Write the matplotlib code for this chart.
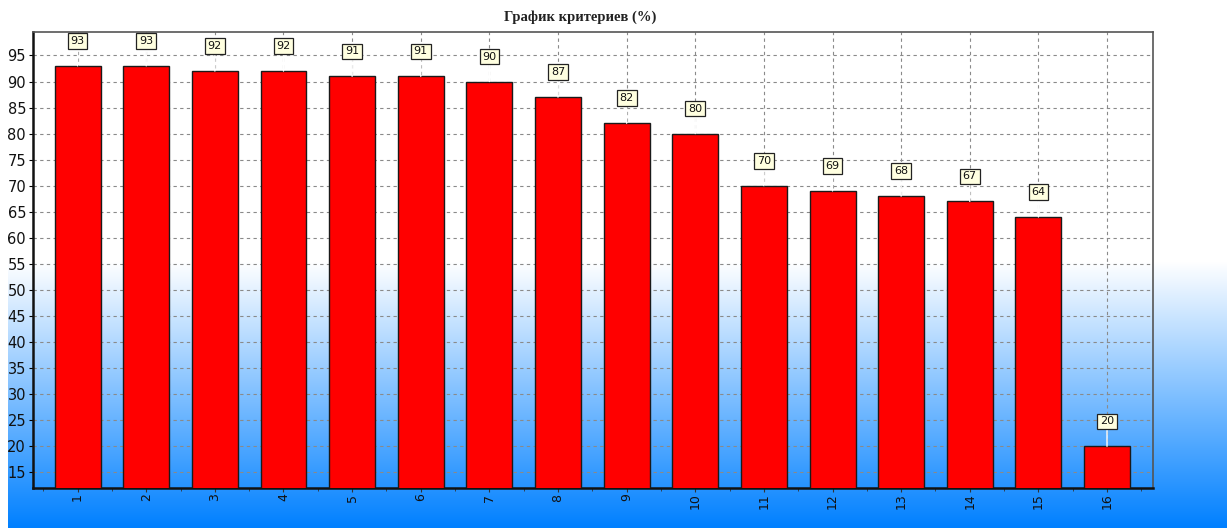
import numpy as np
import matplotlib
matplotlib.use("Agg")
import matplotlib.pyplot as plt

categories = [str(i) for i in range(1, 17)]
values = [93, 93, 92, 92, 91, 91, 90, 87, 82, 80, 70, 69, 68, 67, 64, 20]
yticks = list(range(15, 100, 5))
title = "График критериев (%)"

W, H, DPI = 1227, 528, 100
fig = plt.figure(figsize=(W / DPI, H / DPI), dpi=DPI)
fig.patch.set_facecolor("white")

# background gradient (white top half, blue at bottom)
bg = fig.add_axes([8 / W, 0, 1 - 8 / W, 1], zorder=-10)
n = 528
t = np.linspace(0, 1, n)  # 0 = top, 1 = bottom
start = 262 / 528
frac = np.clip((t - start) / (1 - start), 0, 1)
top = np.array([1.0, 1.0, 1.0])
bot = np.array([0 / 255, 128 / 255, 255 / 255])
cols = top[None, :] * (1 - frac[:, None]) + bot[None, :] * frac[:, None]
img = np.repeat(cols[:, None, :], 2, axis=1)
bg.imshow(img, aspect="auto", extent=[0, 1, 0, 1], origin="upper")
bg.set_axis_off()

left, right, topy, boty = 33, 1153, 32, 488
ax = fig.add_axes([left / W, 1 - boty / H, (right - left) / W, (boty - topy) / H])
ax.set_facecolor("none")

x = np.arange(1, len(values) + 1)
ax.bar(x, values, width=0.67, color="#ff0000", edgecolor="#1a1a1a", linewidth=1.0, zorder=3)

ax.set_xlim(0.35, 16.67)
ax.set_ylim(12, 99.5)
ax.set_yticks(yticks)
ax.set_yticklabels([str(v) for v in yticks], fontsize=10.5, color="#111111")
ax.set_xticks(x)
ax.set_xticklabels(categories, rotation=90, fontsize=9, color="#111111")
ax.set_xticks(np.arange(0.5, 17, 0.5), minor=True)
ax.tick_params(axis="x", which="major", length=3, direction="out", pad=1, color="#333333")
ax.tick_params(axis="x", which="minor", length=2, direction="out", color="#333333")
ax.tick_params(axis="y", length=3, direction="out", pad=2)

ax.grid(True, which="major", axis="both", linestyle=(0, (3, 3)), color="#8a8a8a", linewidth=0.8, zorder=1)
ax.set_axisbelow(True)

for s in ["left", "bottom"]:
    ax.spines[s].set_color("#111111")
    ax.spines[s].set_linewidth(1.8)
for s in ["right", "top"]:
    ax.spines[s].set_color("#555555")
    ax.spines[s].set_linewidth(1.2)

for xi, v in zip(x, values):
    ax.annotate(str(v), xy=(xi, v), xytext=(0, 18), textcoords="offset points",
                ha="center", va="center", fontsize=8, color="#111111",
                bbox=dict(boxstyle="square,pad=0.25", fc="#ffffe0", ec="#222222", lw=0.9),
                arrowprops=dict(arrowstyle="-", color="white", lw=1.0, shrinkA=0, shrinkB=0),
                zorder=5)

fig.text(580 / W, 1 - 17 / H, title, ha="center", va="center", fontsize=10.5,
         fontweight="bold", family=["Liberation Serif", "DejaVu Serif"], color="#222222")

fig.savefig("out.png", dpi=DPI)
